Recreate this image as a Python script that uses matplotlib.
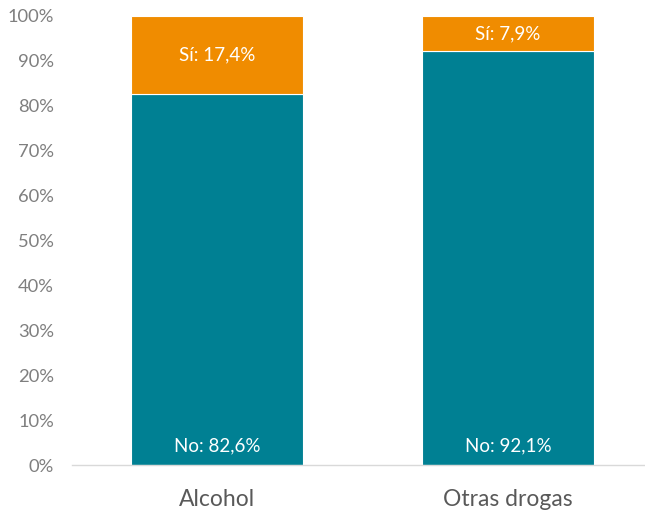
import numpy as np
import matplotlib.pyplot as plt
from matplotlib.ticker import PercentFormatter

categories = ['Alcohol', 'Otras drogas']
no_vals = [82.6, 92.1]
si_vals = [17.4, 7.9]

teal = '#008093'
orange = '#F08C00'

plt.rcParams['font.family'] = ['Lato', 'DejaVu Sans']

fig = plt.figure(figsize=(6.45, 5.11), dpi=100)
ax = fig.add_axes([72/645, 46/511, (644-72)/645, (465-16)/511])

x = np.arange(len(categories))
w = 0.59
no = np.array(no_vals) / 100
si = np.array(si_vals) / 100
ax.bar(x, no, w, color=teal, edgecolor='white', linewidth=0.8)
ax.bar(x, si, w, bottom=no, color=orange, edgecolor='white', linewidth=0.8)

for i in range(len(categories)):
    ax.text(x[i], 0.043, 'No: ' + f'{no_vals[i]:.1f}'.replace('.', ',') + '%',
            ha='center', va='center', color='white', fontsize=13.5)
    ax.text(x[i], no[i] + si[i] / 2, 'Sí: ' + f'{si_vals[i]:.1f}'.replace('.', ',') + '%',
            ha='center', va='center', color='white', fontsize=13.5)

ax.set_xlim(-0.498, 1.467)
ax.set_ylim(0, 1)
ax.set_yticks(np.arange(0, 1.01, 0.1))
ax.yaxis.set_major_formatter(PercentFormatter(1.0, decimals=0))
ax.set_xticks(x)
ax.set_xticklabels(categories)
ax.tick_params(axis='y', length=0, labelsize=13.2, labelcolor='#7f7f7f', pad=13)
ax.tick_params(axis='x', length=0, labelsize=16.5, labelcolor='#595959', pad=17)
for s in ['top', 'right', 'left']:
    ax.spines[s].set_visible(False)
ax.spines['bottom'].set_color('#d9d9d9')
ax.spines['bottom'].set_linewidth(1)

fig.savefig('out.png', dpi=100)
